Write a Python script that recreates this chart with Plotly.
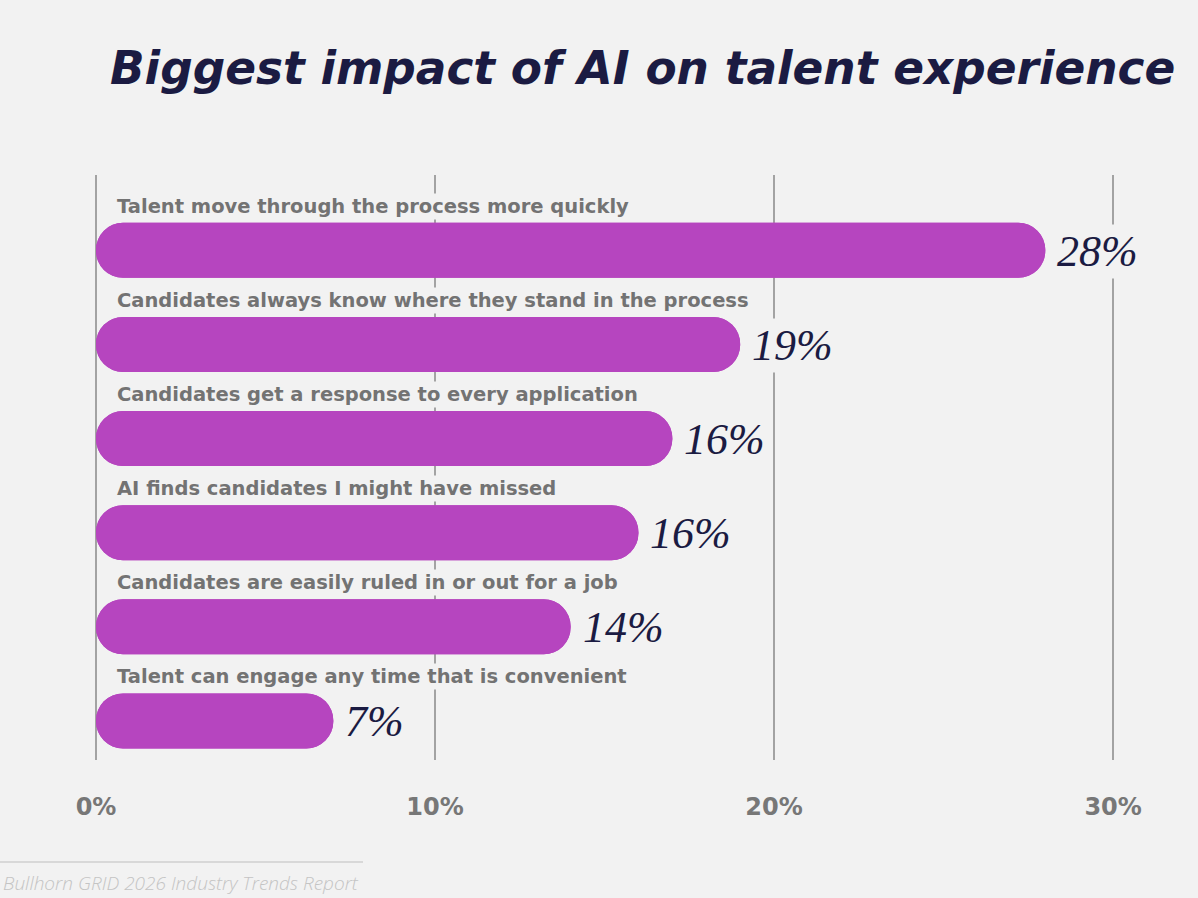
import plotly.graph_objects as go

categories = [
    "Talent move through the process more quickly",
    "Candidates always know where they stand in the process",
    "Candidates get a response to every application",
    "AI finds candidates I might have missed",
    "Candidates are easily ruled in or out for a job",
    "Talent can engage any time that is convenient",
]
bar_values = [28, 19, 17, 16, 14, 7]
value_labels = ["28%", "19%", "16%", "16%", "14%", "7%"]
tick_vals = [0, 10, 20, 30]
tick_text = ["0%", "10%", "20%", "30%"]

BG = "#f2f2f2"
PURPLE = "#b645bf"
NAVY = "#1b1b42"
GRAY = "#737373"

idx = list(range(len(categories)))
zeros = [0 for _ in bar_values]
neg_values = [-v for v in bar_values]

fig = go.Figure()
# full bar, rounded at right end
fig.add_trace(go.Bar(y=idx, x=bar_values, base=zeros, orientation="h",
                     marker=dict(color=PURPLE, line=dict(width=0)),
                     width=0.585, hoverinfo="skip", showlegend=False))
# same bar drawn leftwards, rounded at left end
fig.add_trace(go.Bar(y=idx, x=neg_values, base=bar_values, orientation="h",
                     marker=dict(color=PURPLE, line=dict(width=0)),
                     width=0.585, hoverinfo="skip", showlegend=False))

annotations = []
for i, (cat, v, lab) in enumerate(zip(categories, bar_values, value_labels)):
    annotations.append(dict(
        x=0, y=i, xref="x", yref="y", text=cat, showarrow=False,
        xanchor="left", yanchor="middle", xshift=19, yshift=44,
        font=dict(family="DejaVu Sans", size=19.5, color=GRAY, weight="bold"),
        bgcolor=BG, borderpad=1,
    ))
    annotations.append(dict(
        x=v, y=i, xref="x", yref="y", text=f"<i>{lab}</i>", showarrow=False,
        xanchor="left", yanchor="middle", xshift=9, yshift=-1,
        font=dict(family="Liberation Serif", size=44, color=NAVY),
        bgcolor=BG, borderpad=2,
    ))

annotations.append(dict(
    x=0, y=0, xref="paper", yref="paper", text="<i>Bullhorn GRID 2026 Industry Trends Report</i>",
    showarrow=False, xanchor="left", yanchor="middle", xshift=-95, yshift=-123,
    font=dict(family="Open Sans", size=19, color="#c4c4c4", weight=300),
))

fig.update_layout(
    width=1198, height=898,
    paper_bgcolor=BG, plot_bgcolor=BG,
    margin=dict(l=96, r=51, t=175, b=138),
    barmode="overlay",
    barcornerradius=27,
    title=dict(
        text="<b><i>Biggest impact of AI on talent experience</i></b>",
        x=110 / 1198, xanchor="left", xref="container",
        y=1 - 68 / 898, yanchor="middle", yref="container",
        font=dict(family="DejaVu Sans", size=45.4, color=NAVY),
    ),
    xaxis=dict(
        range=[0, 31], tickvals=tick_vals, ticktext=tick_text,
        showgrid=True, gridcolor="#a3a3a3", gridwidth=2,
        zeroline=True, zerolinecolor="#a3a3a3", zerolinewidth=2,
        showline=False, ticks="", ticklabelstandoff=30,
        tickfont=dict(family="DejaVu Sans", size=24, color="#777777", weight="bold"),
        fixedrange=True,
    ),
    yaxis=dict(
        range=[5.415, -0.8], showticklabels=False, showgrid=False,
        zeroline=False, showline=False, fixedrange=True,
    ),
    annotations=annotations,
    shapes=[dict(type="line", xref="paper", yref="paper",
                 x0=-96 / 1051, x1=(363 - 96) / 1051,
                 y0=(760 - 862) / 585, y1=(760 - 862) / 585,
                 line=dict(color="#cfcfcf", width=1.5))],
)

fig.write_html("out.html")
